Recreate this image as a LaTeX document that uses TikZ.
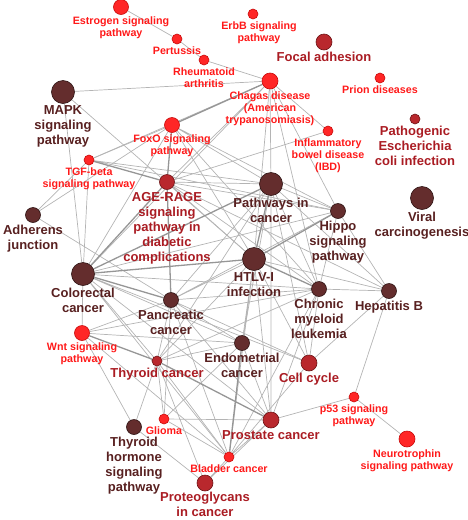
\documentclass[tikz,border=0pt]{standalone}
\usepackage{fontspec}
\setmainfont{Liberation Sans}
\usetikzlibrary{backgrounds}
\definecolor{pwred}{RGB}{255,38,38}
\definecolor{pwredline}{RGB}{200,10,10}
\definecolor{pwredtext}{RGB}{255,25,25}
\definecolor{pwmid}{RGB}{185,40,45}
\definecolor{pwmidline}{RGB}{110,20,22}
\definecolor{pwmidtext}{RGB}{170,28,35}
\definecolor{pwdark}{RGB}{100,45,45}
\definecolor{pwdarkline}{RGB}{45,18,18}
\definecolor{pwdarktext}{RGB}{88,32,32}
\definecolor{linkgray}{RGB}{180,180,180}
\definecolor{linkdark}{RGB}{150,150,150}
\begin{document}
\begin{tikzpicture}[x=1pt, y=-1pt,
  pw/.style={circle, inner sep=0pt, line width=0.6pt},
  bigdot/.style={pw, minimum size=23pt},
  middot/.style={pw, minimum size=16pt},
  dot/.style={pw, minimum size=15pt},
  tinydot/.style={pw, minimum size=10pt},
  hi/.style={fill=pwred, draw=pwredline},
  mid/.style={fill=pwmid, draw=pwmidline},
  lo/.style={fill=pwdark, draw=pwdarkline},
  lab/.style={align=center, inner sep=0.5pt, font=\bfseries\fontsize{10.7}{12}\selectfont, text=pwredtext},
  labmid/.style={lab, font=\bfseries\fontsize{13}{15}\selectfont, text=pwmidtext},
  labdark/.style={labmid, text=pwdarktext},
  link/.style={draw=linkgray, line width=0.7pt},
  strong/.style={draw=linkdark, line width=1.3pt},
  label distance=1.5pt]

\useasboundingbox (0,0) rectangle (468,520);

\node[dot, hi, label={[lab]below:{Estrogen signaling\\pathway}}] (estrogen) at (121,7) {};
\node[tinydot, hi, label={[lab, xshift=6pt]below:{ErbB signaling\\pathway}}] (erbb) at (253,14) {};
\node[tinydot, hi, label={[lab]below:Pertussis}] (pertussis) at (177,39) {};
\node[middot, mid, label={[labmid]below:Focal adhesion}] (focal) at (324,42) {};
\node[tinydot, hi, label={[lab]below:{Rheumatoid\\arthritis}}] (rheum) at (204,60) {};
\node[middot, hi, label={[lab]below:{Chagas disease\\(American\\trypanosomiasis)}}] (chagas) at (270,81) {};
\node[tinydot, hi, label={[lab]below:Prion diseases}] (prion) at (380,78) {};
\node[bigdot, lo, label={[labdark]below:{MAPK\\signaling\\pathway}}] (mapk) at (63,92) {};
\node[tinydot, mid, label={[labmid]below:{Pathogenic\\Escherichia\\coli infection}}] (ecoli) at (415,119) {};
\node[tinydot, hi, label={[lab]below:{Inflammatory\\bowel disease\\(IBD)}}] (ibd) at (328,131) {};
\node[dot, hi, label={[lab]below:{FoxO signaling\\pathway}}] (foxo) at (172,125) {};
\node[tinydot, hi, label={[lab]below:{TGF-beta\\signaling pathway}}] (tgfb) at (89,160) {};
\node[dot, mid, label={[labmid]below:{AGE-RAGE\\signaling\\pathway in\\diabetic\\complications}}] (agerage) at (167,182) {};
\node[bigdot, lo, label={[labdark]below:{Pathways in\\cancer}}] (pathcancer) at (271,184) {};
\node[dot, lo, label={[labdark]below:{Adherens\\junction}}] (adherens) at (33,215) {};
\node[bigdot, lo, label={[labdark]below:{Viral\\carcinogenesis}}] (viral) at (422,198) {};
\node[dot, lo, label={[labdark]below:{Hippo\\signaling\\pathway}}] (hippo) at (338,211) {};
\node[bigdot, lo, label={[labdark]below:{HTLV-I\\infection}}] (htlv) at (254,259) {};
\node[bigdot, lo, label={[labdark]below:{Colorectal\\cancer}}] (colorectal) at (83,274) {};
\node[dot, lo, label={[labdark]below:{Chronic\\myeloid\\leukemia}}] (cml) at (319,289) {};
\node[dot, lo, label={[labdark]below:Hepatitis B}] (hepb) at (389,291) {};
\node[dot, lo, label={[labdark]below:{Pancreatic\\cancer}}] (pancreatic) at (171,300) {};
\node[dot, hi, label={[lab]below:{Wnt signaling\\pathway}}] (wnt) at (82,333) {};
\node[dot, lo, label={[labdark]below:{Endometrial\\cancer}}] (endometrial) at (242,343) {};
\node[tinydot, mid, label={[labmid]below:Thyroid cancer}] (thyroidca) at (157,361) {};
\node[middot, mid, label={[labmid]below:Cell cycle}] (cellcycle) at (309,363) {};
\node[tinydot, hi, label={[lab]below:{p53 signaling\\pathway}}] (ptf) at (354,397) {};
\node[tinydot, hi, label={[lab]below:Glioma}] (glioma) at (164,419) {};
\node[dot, lo, label={[labdark]below:{Thyroid\\hormone\\signaling\\pathway}}] (thyroidhorm) at (134,427) {};
\node[middot, mid, label={[labmid]below:Prostate cancer}] (prostate) at (271,420) {};
\node[middot, hi, label={[lab]below:{Neurotrophin\\signaling pathway}}] (neurotroph) at (407,439) {};
\node[tinydot, hi, label={[lab]below:Bladder cancer}] (bladder) at (229,457) {};
\node[middot, mid, label={[labmid, label distance=0.5pt]below:{Proteoglycans\\in cancer}}] (proteo) at (205,483) {};

\begin{scope}[on background layer]
\draw[link] (estrogen) -- (pertussis) (pertussis) -- (rheum) (rheum) -- (chagas)
  (mapk) -- (chagas) (mapk) -- (colorectal) (mapk) -- (htlv);
\draw[link] (chagas) -- (agerage) (chagas) -- (tgfb) (chagas) -- (pathcancer)
  (chagas) -- (htlv) (chagas) -- (cml) (chagas) -- (hippo) (chagas) -- (ibd)
  (chagas) -- (colorectal) (ibd) -- (agerage);
\draw[link] (foxo) -- (tgfb) (foxo) -- (colorectal) (foxo) -- (pathcancer)
  (foxo) -- (htlv) (foxo) -- (cml) (foxo) -- (adherens) (foxo) -- (hippo);
\draw[link] (tgfb) -- (colorectal) (tgfb) -- (pathcancer) (tgfb) -- (hippo)
  (tgfb) -- (adherens) (adherens) -- (pancreatic);
\draw[link] (agerage) -- (pathcancer) (agerage) -- (htlv) (agerage) -- (cml)
  (agerage) -- (hepb) (agerage) -- (hippo);
\draw[link] (colorectal) -- (cml) (colorectal) -- (hippo) (colorectal) -- (endometrial)
  (colorectal) -- (thyroidca) (colorectal) -- (prostate) (colorectal) -- (wnt)
  (colorectal) -- (bladder) (colorectal) -- (cellcycle);
\draw[link] (pathcancer) -- (hippo) (pathcancer) -- (cml) (pathcancer) -- (hepb)
  (pathcancer) -- (pancreatic) (pathcancer) -- (endometrial) (pathcancer) -- (prostate)
  (pathcancer) -- (thyroidca) (pathcancer) -- (cellcycle);
\draw[link] (hippo) -- (cml) (hippo) -- (hepb) (hippo) -- (pancreatic)
  (htlv) -- (hepb) (htlv) -- (pancreatic) (htlv) -- (cellcycle) (htlv) -- (endometrial)
  (htlv) -- (prostate) (htlv) -- (thyroidca) (htlv) -- (bladder);
\draw[link] (cml) -- (hepb) (cml) -- (pancreatic) (cml) -- (cellcycle) (cml) -- (prostate)
  (cml) -- (thyroidca) (cml) -- (bladder) (hepb) -- (cellcycle) (hepb) -- (ptf)
  (ptf) -- (prostate) (ptf) -- (neurotroph);
\draw[link] (wnt) -- (pancreatic) (wnt) -- (endometrial) (wnt) -- (thyroidhorm)
  (wnt) -- (cml) (wnt) -- (bladder);
\draw[link] (pancreatic) -- (thyroidca) (pancreatic) -- (endometrial) (pancreatic) -- (prostate)
  (pancreatic) -- (bladder) (pancreatic) -- (glioma) (pancreatic) -- (cellcycle)
  (endometrial) -- (thyroidca) (endometrial) -- (prostate) (endometrial) -- (glioma);
\draw[link] (thyroidca) -- (glioma) (thyroidca) -- (bladder) (thyroidca) -- (thyroidhorm)
  (thyroidca) -- (proteo) (glioma) -- (prostate) (glioma) -- (bladder)
  (thyroidhorm) -- (proteo) (bladder) -- (proteo) (prostate) -- (proteo)
  (bladder) -- (cellcycle) (bladder) -- (prostate);
\draw[strong] (chagas) -- (foxo) (foxo) -- (agerage) (agerage) -- (pancreatic)
  (colorectal) -- (pathcancer) (colorectal) -- (htlv) (pathcancer) -- (htlv)
  (htlv) -- (cml) (tgfb) -- (agerage) (colorectal) -- (agerage) (wnt) -- (thyroidca)
  (htlv) -- (hippo) (colorectal) -- (pancreatic) (endometrial) -- (bladder)
  (thyroidca) -- (prostate);
\end{scope}
\end{tikzpicture}
\end{document}
